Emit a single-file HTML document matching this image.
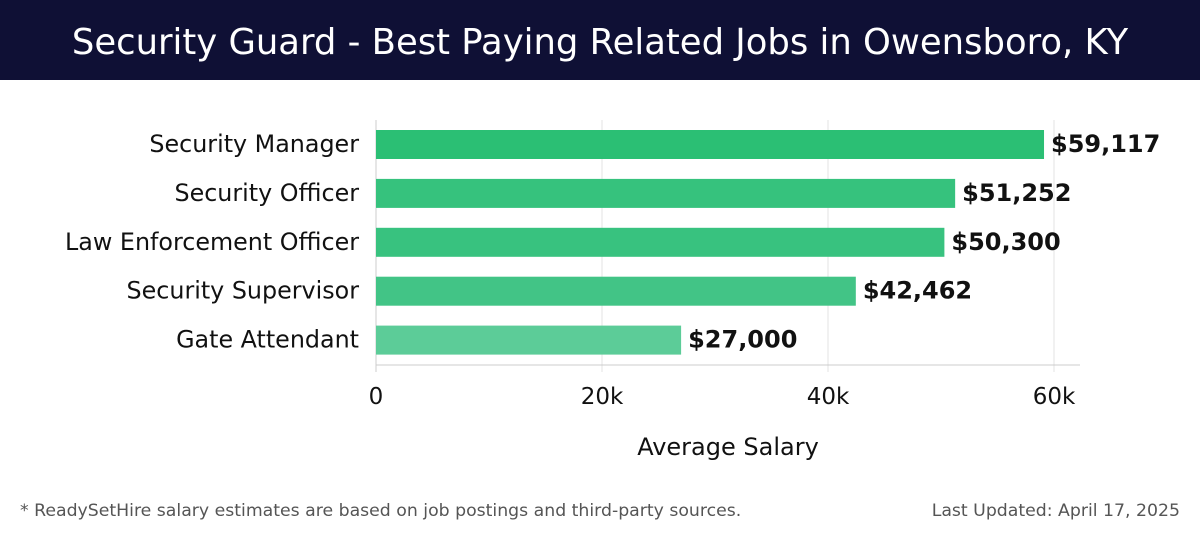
<!DOCTYPE html>
<html><head><meta charset="utf-8"><style>
body{margin:0;width:1200px;height:540px;background:#fff;overflow:hidden;font-family:"DejaVu Sans","Liberation Sans",sans-serif}
#title{position:absolute;left:0;top:0;width:1200px;height:80px;background:#0f1035;color:#fff;font-size:35.4px;text-align:center;line-height:86px;font-weight:normal}
.foot{position:absolute;top:501px;font-size:17.3px;color:#555}
</style></head><body>
<div id="title">Security Guard - Best Paying Related Jobs in Owensboro, KY</div>
<svg id="chart" width="1200" height="540" style="position:absolute;left:0;top:0"></svg>
<div class="foot" style="left:20px">* ReadySetHire salary estimates are based on job postings and third-party sources.</div>
<div class="foot" style="right:20px">Last Updated: April 17, 2025</div>
<script>
const categories=["Security Manager","Security Officer","Law Enforcement Officer","Security Supervisor","Gate Attendant"];
const values=[59117,51252,50300,42462,27000];
const valueLabels=["$59,117","$51,252","$50,300","$42,462","$27,000"];
const tickValues=[0,20000,40000,60000];
const tickLabels=["0","20k","40k","60k"];
const colors=["#2bbf74","#36c27d","#38c27f","#42c486","#5ccc98"];
const NS="http://www.w3.org/2000/svg";
const svg=document.getElementById('chart');
const x0=376,pxPer=678/60000;
const xs=v=>x0+v*pxPer;
const ys=i=>144+i*48.9;
function mk(t,a){const e=document.createElementNS(NS,t);for(const k in a)e.setAttribute(k,a[k]);svg.appendChild(e);return e;}
tickValues.forEach((v,i)=>{
 const g=mk('line',{x1:xs(v),x2:xs(v),y1:120,y2:372,stroke:i==0?'#ccc':'#e3e3e3','stroke-width':1});
 
 
 const t=mk('text',{x:xs(v),y:404,'text-anchor':'middle','font-size':23,fill:'#111'});
 t.textContent=tickLabels[i];
 
 
});
const ax=mk('line',{x1:x0,x2:1080,y1:365,y2:365,stroke:'#ccc'});


categories.forEach((c,i)=>{
 const y=ys(i);
 const b=mk('rect',{x:x0,y:y-14,width:xs(values[i])-x0,height:29,fill:colors[i]});
 
 
 const l=mk('text',{x:359,y:y+8,'text-anchor':'end','font-size':23.8,fill:'#111'});
 l.textContent=c;
 
 
 const v=mk('text',{x:xs(values[i])+7,y:y+8,'font-size':24,'font-weight':'bold',fill:'#111'});
 v.textContent=valueLabels[i];
 
 
});
const at=mk('text',{x:728,y:455,'text-anchor':'middle','font-size':24,fill:'#111'});
at.textContent='Average Salary';


</script>
</body></html>
